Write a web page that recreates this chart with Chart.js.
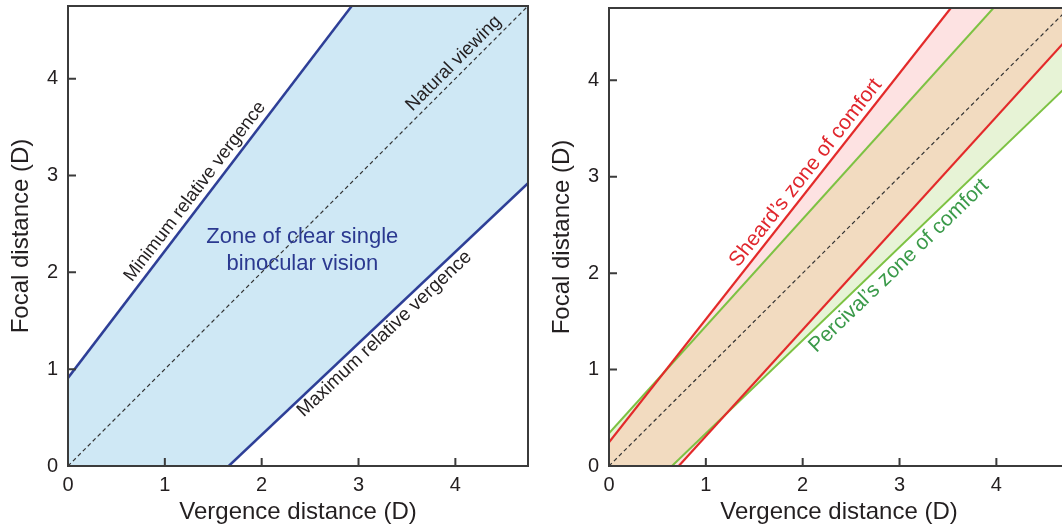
<!DOCTYPE html>
<html>
<head>
<meta charset="utf-8">
<script src="https://cdn.jsdelivr.net/npm/chart.js@4.4.1/dist/chart.umd.min.js"></script>
<style>
  html, body { margin: 0; padding: 0; background: #fff; width: 1062px; height: 529px; overflow: hidden; }
  .panel { position: absolute; top: 0; width: 541px; height: 529px; }
  #left-panel { left: 0; }
  #right-panel { left: 541px; }
</style>
</head>
<body>
<div class="panel" id="left-panel"><canvas id="clear-vision" width="541" height="529"></canvas></div>
<div class="panel" id="right-panel"><canvas id="comfort-zones" width="541" height="529"></canvas></div>
<script>
// Axis range and tick values (dioptres)
const AXIS_MAX = 4.75;
const tickValues = [0, 1, 2, 3, 4];

// Boundary lines as [x, y] end points, vergence vs focal distance
const naturalViewing = [[0, 0], [4.75, 4.75]];
const minRelativeVergence = [[0, 0.91], [2.93, 4.75]];
const maxRelativeVergence = [[1.66, 0], [4.75, 2.92]];
const sheardUpper = [[0, 0.245], [3.53, 4.75]];
const sheardLower = [[0.72, 0], [4.75, 4.45]];
const percivalUpper = [[0, 0.34], [3.97, 4.75]];
const percivalLower = [[0.65, 0], [4.75, 3.96]];

const INK = '#231f20';
const FONT = '"Liberation Sans", Arial, Helvetica, sans-serif';

const pt = ([x, y]) => ({ x, y });

// crossing point of two straight boundaries
function intersect(a, b) {
  const [[ax0, ay0], [ax1, ay1]] = a;
  const [[bx0, by0], [bx1, by1]] = b;
  const ma = (ay1 - ay0) / (ax1 - ax0);
  const mb = (by1 - by0) / (bx1 - bx0);
  const x = (by0 - mb * bx0 - ay0 + ma * ax0) / (ma - mb);
  return { x, y: ay0 + ma * (x - ax0) };
}

function lineSet(points, color, width, order, dash) {
  return {
    data: points.map(pt),
    showLine: true,
    borderColor: color,
    borderWidth: width,
    borderDash: dash || [],
    fill: false,
    order,
  };
}

function zoneSet(points, color, order) {
  return {
    data: points,
    showLine: true,
    borderWidth: 0,
    borderColor: 'rgba(0,0,0,0)',
    backgroundColor: color,
    fill: 'shape',
    order,
  };
}

// Box around the plot with inward tick marks
const frame = {
  id: 'frame',
  afterDraw(chart) {
    const { ctx, chartArea: a, scales: { x, y } } = chart;
    ctx.save();
    ctx.strokeStyle = '#3b3b3b';
    ctx.lineWidth = 2;
    ctx.strokeRect(a.left, a.top, a.right - a.left, a.bottom - a.top);
    ctx.beginPath();
    x.ticks.forEach(t => {
      const p = x.getPixelForValue(t.value);
      ctx.moveTo(p, a.bottom);
      ctx.lineTo(p, a.bottom - 8);
    });
    y.ticks.forEach(t => {
      const p = y.getPixelForValue(t.value);
      ctx.moveTo(a.left, p);
      ctx.lineTo(a.left + 8, p);
    });
    ctx.stroke();
    ctx.restore();
  }
};

// Text laid along a boundary line, or plain text at a data point
const lineLabels = {
  id: 'lineLabels',
  afterDatasetsDraw(chart, args, opts) {
    const { ctx, scales: { x, y } } = chart;
    (opts.items || []).forEach(item => {
      let px, py, ang = 0;
      if (item.line) {
        const [[x0, y0], [x1, y1]] = item.line;
        const p0x = x.getPixelForValue(x0), p0y = y.getPixelForValue(y0);
        const p1x = x.getPixelForValue(x1), p1y = y.getPixelForValue(y1);
        ang = Math.atan2(p1y - p0y, p1x - p0x);
        const t = (item.at - x0) / (x1 - x0);
        // normal towards the upper-left side
        const nx = Math.sin(ang), ny = -Math.cos(ang);
        px = p0x + t * (p1x - p0x) + nx * item.offset;
        py = p0y + t * (p1y - p0y) + ny * item.offset;
      } else {
        px = x.getPixelForValue(item.point[0]);
        py = y.getPixelForValue(item.point[1]);
      }
      const lines = [].concat(item.text);
      const lh = item.lineHeight || item.size * 1.2;
      ctx.save();
      ctx.translate(px, py);
      ctx.rotate(ang);
      ctx.fillStyle = item.color;
      ctx.font = `${item.size}px ${FONT}`;
      ctx.textAlign = 'center';
      ctx.textBaseline = 'middle';
      lines.forEach((s, i) => ctx.fillText(s, 0, (i - (lines.length - 1) / 2) * lh));
      ctx.restore();
    });
  }
};

// fixed axis boxes, no extra room reserved for the end labels
function fixBox(size, key) {
  return s => {
    s[key] = size;
    s.paddingTop = s.paddingBottom = s.paddingLeft = s.paddingRight = 0;
  };
}

function makeChart(id, datasets, labelItems, padTop) {
  return new Chart(document.getElementById(id), {
    type: 'scatter',
    data: { datasets },
    options: {
      responsive: false,
      animation: false,
      events: [],
      layout: { padding: { top: padTop, right: 13, left: 0, bottom: 0 } },
      elements: { point: { radius: 0, hoverRadius: 0 }, line: { tension: 0 } },
      plugins: {
        legend: { display: false },
        tooltip: { enabled: false },
        lineLabels: { items: labelItems },
      },
      scales: {
        x: {
          type: 'linear',
          min: 0,
          max: AXIS_MAX,
          afterBuildTicks: s => { s.ticks = tickValues.map(value => ({ value })); },
          afterFit: fixBox(63, 'height'),
          grid: { display: false, drawTicks: false },
          border: { display: false },
          ticks: { color: INK, font: { family: FONT, size: 20 }, padding: 7, maxRotation: 0 },
          title: {
            display: true,
            text: 'Vergence distance (D)',
            color: INK,
            font: { family: FONT, size: 24 },
            padding: { top: 0, bottom: 2 },
          },
        },
        y: {
          type: 'linear',
          min: 0,
          max: AXIS_MAX,
          afterBuildTicks: s => { s.ticks = tickValues.map(value => ({ value })); },
          afterFit: fixBox(68, 'width'),
          grid: { display: false, drawTicks: false },
          border: { display: false },
          ticks: { color: INK, font: { family: FONT, size: 20 }, padding: 10 },
          title: {
            display: true,
            text: 'Focal distance (D)',
            color: INK,
            font: { family: FONT, size: 24 },
            padding: { top: 7, bottom: 0 },
          },
        },
      },
    },
    plugins: [frame, lineLabels],
  });
}

// Left: zone of clear single binocular vision
const clearZone = [
  pt(minRelativeVergence[0]), pt(minRelativeVergence[1]),
  { x: AXIS_MAX, y: AXIS_MAX },
  pt(maxRelativeVergence[1]), pt(maxRelativeVergence[0]),
  { x: 0, y: 0 },
];

makeChart('clear-vision', [
  zoneSet(clearZone, '#cfe8f5', 5),
  lineSet(naturalViewing, '#333333', 1.2, 3, [4, 3]),
  lineSet(minRelativeVergence, '#2e3f97', 2.5, 1),
  lineSet(maxRelativeVergence, '#2e3f97', 2.5, 1),
], [
  { text: 'Minimum relative vergence', line: minRelativeVergence, at: 1.41, offset: 12, size: 18.5, color: INK },
  { text: 'Natural viewing', line: naturalViewing, at: 4.07, offset: 12, size: 18.5, color: INK },
  { text: 'Maximum relative vergence', line: maxRelativeVergence, at: 3.19, offset: -11, size: 19, color: INK },
  { text: ['Zone of clear single', 'binocular vision'], point: [2.42, 2.23], size: 22, lineHeight: 27, color: '#2b3990' },
], 6);

// Right: Sheard's and Percival's zones of comfort, with their overlap
const sheardZone = [
  pt(sheardUpper[0]), pt(sheardUpper[1]),
  { x: AXIS_MAX, y: AXIS_MAX },
  pt(sheardLower[1]), pt(sheardLower[0]),
  { x: 0, y: 0 },
];
const percivalZone = [
  pt(percivalUpper[0]), pt(percivalUpper[1]),
  { x: AXIS_MAX, y: AXIS_MAX },
  pt(percivalLower[1]), pt(percivalLower[0]),
  { x: 0, y: 0 },
];
const overlapZone = [
  pt(sheardUpper[0]), intersect(sheardUpper, percivalUpper), pt(percivalUpper[1]),
  { x: AXIS_MAX, y: AXIS_MAX },
  pt(sheardLower[1]), intersect(sheardLower, percivalLower), pt(percivalLower[0]),
  { x: 0, y: 0 },
];

makeChart('comfort-zones', [
  zoneSet(sheardZone, '#fde2e2', 9),
  zoneSet(percivalZone, '#e7f3d6', 8),
  zoneSet(overlapZone, '#f2dbc0', 7),
  lineSet(naturalViewing, '#333333', 1.2, 5, [4, 3]),
  lineSet(percivalUpper, '#7dc243', 2, 3),
  lineSet(percivalLower, '#7dc243', 2, 3),
  lineSet(sheardUpper, '#e32a2a', 2.2, 1),
  lineSet(sheardLower, '#e32a2a', 2.2, 1),
], [
  { text: 'Sheard\u2019s zone of comfort', line: sheardUpper, at: 2.13, offset: 12, size: 21, color: '#e0262d' },
  { text: 'Percival\u2019s zone of comfort', line: percivalLower, at: 2.9, offset: -13, size: 21, color: '#3b9a4a' },
], 8);
</script>
</body>
</html>
